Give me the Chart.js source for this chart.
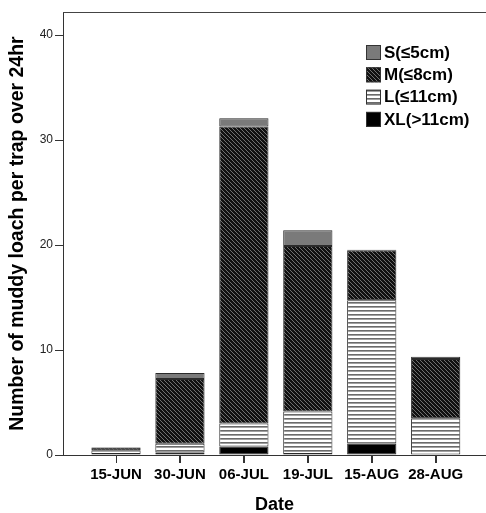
<!DOCTYPE html>
<html><head><meta charset="utf-8">
<script src="https://cdn.jsdelivr.net/npm/chart.js@4/dist/chart.umd.min.js"></script>
<style>html,body{margin:0;padding:0;background:#fff}#wrap{width:486px;height:513px;position:relative}</style>
</head><body><div id="wrap"><canvas id="c" width="486" height="513"></canvas></div>
<script>
const categories = ['15-JUN','30-JUN','06-JUL','19-JUL','15-AUG','28-AUG'];
const xlValues = [0.1, 0.25, 0.8, 0.1, 1.1, 0.05];
const lValues  = [0.35, 0.83, 2.2, 4.05, 13.65, 3.45];
const mValues  = [0.25, 6.16, 28.3, 15.75, 4.75, 5.64];
const sValues  = [0.03, 0.56, 0.77, 1.5, 0.05, 0.22];
const yTicks = [0, 10, 20, 30, 40];
const seriesLabels = ['XL(>11cm)', 'L(\u226411cm)', 'M(\u22648cm)', 'S(\u22645cm)'];

const FONT = 'Arial, "Liberation Sans", sans-serif';
const canvas = document.getElementById('c');
const ctx0 = canvas.getContext('2d');

function diagPattern(){
  const c = document.createElement('canvas'); c.width = 4; c.height = 4;
  const x = c.getContext('2d');
  x.fillStyle = '#111'; x.fillRect(0,0,4,4);
  x.fillStyle = '#707070';
  for (let i = 0; i < 4; i++) x.fillRect(i, i, 1, 1);
  return ctx0.createPattern(c, 'repeat');
}
function hPattern(){
  const c = document.createElement('canvas'); c.width = 4; c.height = 4;
  const x = c.getContext('2d');
  x.fillStyle = '#fff'; x.fillRect(0,0,4,4);
  x.fillStyle = '#6a6a6a'; x.fillRect(0,2,4,1);
  x.fillStyle = '#a0a0a0'; x.fillRect(0,3,4,1);
  return ctx0.createPattern(c, 'repeat');
}
const fills = ['#000', hPattern(), diagPattern(), '#7a7a7a'];
const valueSets = [xlValues, lValues, mValues, sValues];

const datasets = valueSets.map((vals, k) => ({
  label: seriesLabels[k],
  data: vals.map((v, i) => ({x: i + 1, y: v})),
  backgroundColor: fills[k],
  borderColor: '#2a2a2a',
  borderWidth: 1,
  borderSkipped: false,
  categoryPercentage: 1,
  barPercentage: 0.77
}));

const framePlugin = {
  id: 'frame',
  afterDraw(chart) {
    const {ctx, chartArea: a} = chart;
    ctx.save();
    ctx.strokeStyle = '#444'; ctx.lineWidth = 1;
    ctx.beginPath(); ctx.moveTo(a.left, a.top + 0.5); ctx.lineTo(a.right, a.top + 0.5); ctx.stroke();
    // x tick marks at the scale's own tick positions
    const xs = chart.scales.x;
    ctx.strokeStyle = '#333';
    xs.ticks.forEach(t => {
      const px = Math.round(xs.getPixelForValue(t.value)) + 0.5;
      ctx.beginPath(); ctx.moveTo(px, a.bottom); ctx.lineTo(px, a.bottom + 8); ctx.stroke();
    });
    // legend
    const items = chart.data.datasets.slice().reverse();
    const bx = 366, by0 = 45, step = 22.3, bs = 15;
    ctx.font = 'bold 17px ' + FONT;
    ctx.textBaseline = 'middle';
    ctx.textAlign = 'left';
    items.forEach((ds, i) => {
      const y = by0 + i * step;
      ctx.fillStyle = ds.backgroundColor;
      ctx.fillRect(bx, y, bs, bs);
      ctx.strokeStyle = '#333';
      ctx.strokeRect(bx + 0.5, y + 0.5, bs - 1, bs - 1);
      ctx.fillStyle = '#000';
      ctx.fillText(ds.label, bx + bs + 3, y + bs / 2 + 0.5);
    });
    ctx.restore();
  }
};

new Chart(canvas, {
  type: 'bar',
  data: { datasets },
  options: {
    responsive: false,
    devicePixelRatio: 1,
    animation: false,
    layout: { padding: { top: 12, left: 0, right: 0, bottom: 0 } },
    plugins: { legend: { display: false }, tooltip: { enabled: false } },
    scales: {
      x: {
        type: 'linear', min: 0.171, max: 6.787, stacked: true, offset: false,
        afterBuildTicks: s => { s.ticks = categories.map((_, i) => ({ value: i + 1 })); },
        ticks: { callback: v => categories[v - 1], font: { family: FONT, size: 15, weight: 'bold' }, color: '#000', padding: 3, autoSkip: false, maxRotation: 0 },
        grid: { offset: false, drawOnChartArea: false, drawTicks: true, tickLength: 8, color: '#333' },
        border: { display: true, color: '#333', width: 1 },
        title: { display: true, text: 'Date', font: { family: FONT, size: 18, weight: 'bold', lineHeight: 0.83 }, color: '#000', padding: { top: 0, bottom: 0 } },
        afterFit: s => { s.height = 58; }
      },
      y: {
        stacked: true, min: 0, max: 42.2,
        afterBuildTicks: s => { s.ticks = yTicks.map(v => ({ value: v })); },
        ticks: { font: { family: FONT, size: 12 }, color: '#222', padding: 2 },
        grid: { drawOnChartArea: false, drawTicks: true, tickLength: 8, color: '#333' },
        border: { display: true, color: '#333', width: 1 },
        title: { display: true, text: 'Number of muddy loach per trap over 24hr', font: { family: FONT, size: 19.5, weight: 'bold', lineHeight: 1.1 }, color: '#000', padding: { top: 7, bottom: 0 } },
        afterFit: s => { s.width = 63; }
      }
    }
  },
  plugins: [framePlugin]
});
</script>
</body></html>
